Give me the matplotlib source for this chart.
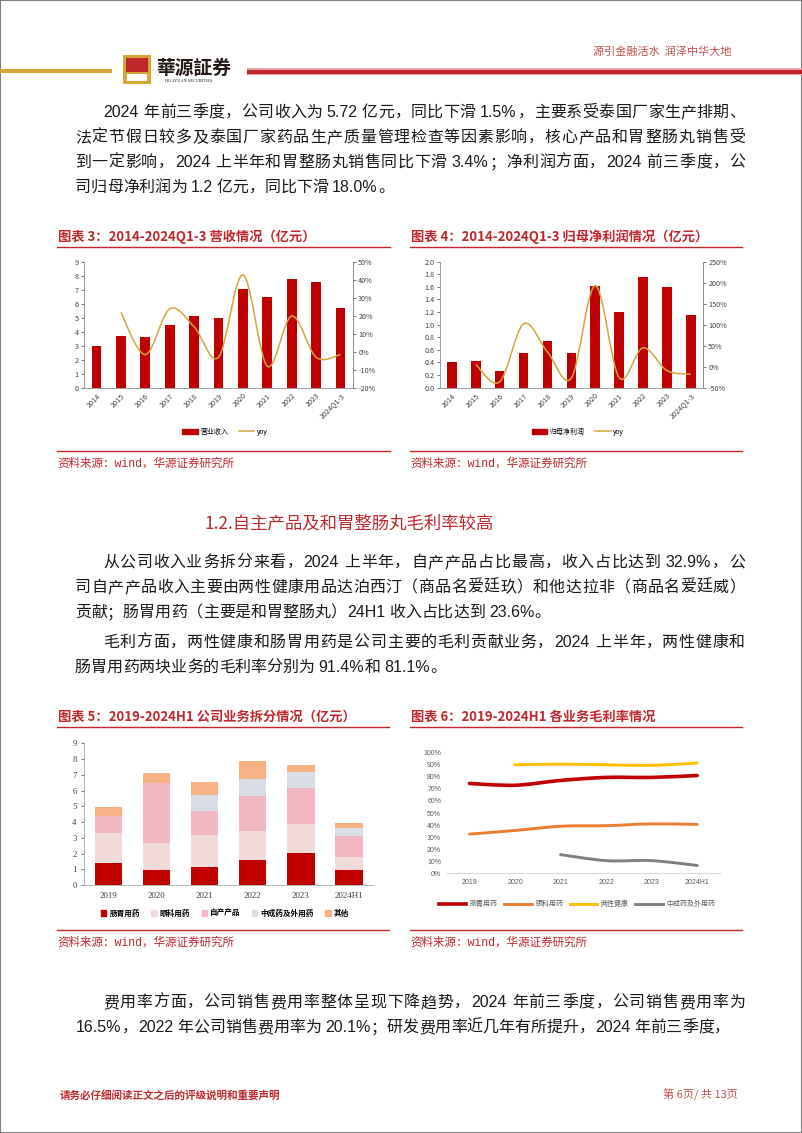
import re
import numpy as np
import matplotlib
matplotlib.use('Agg')
import matplotlib.pyplot as plt
from matplotlib.patches import Rectangle, PathPatch, Patch
from matplotlib.lines import Line2D
from matplotlib.path import Path
from matplotlib.ticker import FuncFormatter

# ---- data -------------------------------------------------------------
years = ['2014', '2015', '2016', '2017', '2018', '2019', '2020', '2021', '2022', '2023', '2024Q1-3']
revenue = [3.0, 3.7, 3.62, 4.5, 5.12, 4.98, 7.08, 6.52, 7.82, 7.6, 5.72]
revenue_yoy = [np.nan, 22, -1.5, 24, 14, -3, 43, -8, 20, -3, -1.5]
net_profit = [0.40, 0.42, 0.27, 0.55, 0.74, 0.55, 1.61, 1.20, 1.75, 1.60, 1.16]
profit_yoy = [np.nan, 5, -36, 102, 35, -27, 193, -26, 45, -9, -18]

seg_years = ['2019', '2020', '2021', '2022', '2023', '2024H1']
seg_names = ['肠胃用药', '眼科用药', '自产产品', '中成药及外用药', '其他']
seg_gi = [1.42, 0.95, 1.17, 1.57, 2.05, 0.93]
seg_eye = [1.86, 1.70, 2.01, 1.86, 1.83, 0.87]
seg_own = [1.10, 3.85, 1.54, 2.25, 2.29, 1.30]
seg_tcm = [0.0, 0.0, 1.00, 1.08, 0.99, 0.53]
seg_other = [0.56, 0.60, 0.83, 1.10, 0.44, 0.31]

gm_names = ['肠胃用药', '眼科用药', '两性健康', '中成药及外用药']
gm_gi = [74.5, 73.0, 77.0, 79.5, 79.5, 81.1]
gm_eye = [32.5, 35.5, 39.0, 39.5, 41.0, 40.5]
gm_sex = [np.nan, 90.0, 90.5, 90.0, 89.5, 91.4]
gm_tcm = [np.nan, np.nan, 15.5, 10.5, 10.5, 6.5]

para1 = ['2024 年前三季度，公司收入为 5.72 亿元，同比下滑 1.5%，主要系受泰国厂家生产排期、',
         '法定节假日较多及泰国厂家药品生产质量管理检查等因素影响，核心产品和胃整肠丸销售受',
         '到一定影响，2024 上半年和胃整肠丸销售同比下滑 3.4%；净利润方面，2024 前三季度，公',
         '司归母净利润为 1.2 亿元，同比下滑 18.0%。']
para2 = ['从公司收入业务拆分来看，2024 上半年，自产产品占比最高，收入占比达到 32.9%，公',
         '司自产产品收入主要由两性健康用品达泊西汀（商品名爱廷玖）和他达拉非（商品名爱廷威）',
         '贡献；肠胃用药（主要是和胃整肠丸）24H1 收入占比达到 23.6%。']
para3 = ['毛利方面，两性健康和肠胃用药是公司主要的毛利贡献业务，2024 上半年，两性健康和',
         '肠胃用药两块业务的毛利率分别为 91.4%和 81.1%。']
para4 = ['费用率方面，公司销售费用率整体呈现下降趋势，2024 年前三季度，公司销售费用率为',
         '16.5%，2022 年公司销售费用率为 20.1%；研发费用率近几年有所提升，2024 年前三季度，']

# ---- page setup ---------------------------------------------------------
W, H = 802, 1133
RED = '#C0272D'
BAR_RED = '#C00000'
GOLD = '#D4A63A'
TXT = '#1a1a1a'
BODY = ['Liberation Sans', 'Noto Sans CJK SC']
CJK = ['Noto Sans CJK SC', 'DejaVu Sans']
plt.rcParams['font.family'] = CJK

fig = plt.figure(figsize=(W / 100, H / 100), dpi=100)
renderer = fig.canvas.get_renderer()


def fx(x):
    return x / W


def fy(y):
    return 1 - y / H


def box(l, t, r, b):
    return [fx(l), fy(b), (r - l) / W, (b - t) / H]


def hline(x0, x1, y, color=RED, lw=1.0):
    fig.add_artist(Line2D([fx(x0), fx(x1)], [fy(y), fy(y)], color=color, lw=lw))


BODY_PT = 11.5
EM = BODY_PT * 100 / 72
OPEN = '（“'
CLOSE = '，。；：、）”'


def body_line(s, x0, y, x1=None):
    # y is the baseline; x1 given -> justify the line to x1
    items = []
    for tk in re.findall(r'[!-~]+| |.', s):
        if tk == ' ':
            items.append((tk, 0.2 * EM, None))
        elif tk.isascii():
            t = fig.text(0, 0, tk, fontsize=BODY_PT, family=BODY, color=TXT, va='baseline')
            items.append((tk, t.get_window_extent(renderer).width + 0.08 * EM, t))
        else:
            items.append((tk, EM, None))
    total = sum(w for _, w, _ in items)
    gap = (x1 - x0 - total) / (len(items) - 1) if x1 else 0
    x = x0
    for tk, w, t in items:
        kw = dict(fontsize=BODY_PT, family=BODY, color=TXT, va='baseline')
        if tk == ' ':
            pass
        elif t is not None:
            t.set_position((fx(x + 0.04 * EM), fy(y)))
        elif tk in OPEN:
            fig.text(fx(x + EM), fy(y), tk, ha='right', **kw)
        elif tk in CLOSE:
            fig.text(fx(x), fy(y), tk, ha='left', **kw)
        else:
            fig.text(fx(x + EM / 2), fy(y), tk, ha='center', **kw)
        x += w + gap


def paragraph(lines, y0, step=25):
    for i, s in enumerate(lines):
        x0 = 103 if i == 0 else 75
        x1 = 745 if i < len(lines) - 1 else None
        body_line(s, x0, y0 + i * step + 6, x1)


def smooth_path(xs, ys):
    pts = [np.array([x, y], float) for x, y in zip(xs, ys) if not np.isnan(y)]
    verts, codes = [pts[0]], [Path.MOVETO]
    for i in range(len(pts) - 1):
        p0 = pts[i - 1] if i > 0 else pts[i]
        p1, p2 = pts[i], pts[i + 1]
        p3 = pts[i + 2] if i + 2 < len(pts) else p2
        verts += [p1 + (p2 - p0) / 6, p2 - (p3 - p1) / 6, p2]
        codes += [Path.CURVE4] * 3
    return Path(verts, codes)


def chart_frame(title, x0, x1, ytitle, yline):
    fig.text(fx(x0 + 1), fy(ytitle), title, fontsize=9.5, weight='bold', color=RED,
             family=CJK, va='center')
    hline(x0, x1, ytitle + 10)
    hline(x0, x1, yline)
    fig.text(fx(x0), fy(yline + 12.5), '资料来源：wind，华源证券研究所', fontsize=8.3,
             color=RED, family=['Liberation Mono', 'Noto Sans CJK SC'], va='center')


# ---- header / footer -----------------------------------------------------
fig.add_artist(Rectangle((0, 0), 1, 1, transform=fig.transFigure, fill=False,
                         ec='#808080', lw=1.5))
fig.add_artist(Rectangle((0, fy(73)), fx(112), 4 / H, transform=fig.transFigure,
                         fc=GOLD, ec='none'))
fig.add_artist(Rectangle((fx(247), fy(75)), 1 - fx(247), 7 / H, transform=fig.transFigure,
                         fc='#E8A0A4', ec='none'))
fig.add_artist(Rectangle((fx(247), fy(73.5)), 1 - fx(247), 4 / H, transform=fig.transFigure,
                         fc=RED, ec='none'))
fig.add_artist(Rectangle((fx(123), fy(84)), 28 / W, 29 / H, transform=fig.transFigure,
                         fc=GOLD, ec='none'))
fig.add_artist(Rectangle((fx(126), fy(72)), 22 / W, 14 / H, transform=fig.transFigure,
                         fc=RED, ec='none'))
fig.add_artist(Rectangle((fx(127), fy(81)), 20 / W, 7 / H, transform=fig.transFigure,
                         fc='white', ec='none'))
fig.text(fx(156), fy(68), '華源証券', fontsize=13.5, weight='bold', color='#231815',
         family=['Noto Sans CJK TC'], va='center')
fig.text(fx(165), fy(81.5), 'HUAYUAN SECURITIES', fontsize=3.2, color='#231815',
         family='Liberation Serif', va='center')
fig.text(fx(593), fy(52), '源引金融活水  润泽中华大地', fontsize=8, color='#C0504D',
         family=CJK, va='center')
fig.text(fx(60), fy(1095), '请务必仔细阅读正文之后的评级说明和重要声明', fontsize=7.6,
         weight='bold', color=RED, family=CJK, va='center')
fig.text(fx(663), fy(1095), '第 6页/ 共 13页', fontsize=8, color='#C0504D',
         family=CJK, va='center')

# ---- body text -----------------------------------------------------------
paragraph(para1, 111)
fig.text(fx(205), fy(523), '1.2.自主产品及和胃整肠丸毛利率较高', fontsize=12.5, color=RED,
         family=CJK, va='center')
paragraph(para2, 561)
paragraph(para3, 641)
paragraph(para4, 1001)


# ---- charts 3 & 4: bars + yoy --------------------------------------------
def bar_yoy(rect, vals, yoy, ylim, yticks, yfmt, rlim, rticks, label, legend_xy):
    x = np.arange(len(years))
    ax = fig.add_axes(rect)
    ax.bar(x, vals, width=0.4, color=BAR_RED)
    ax.set_xlim(-0.5, len(years) - 0.5)
    ax.set_ylim(*ylim)
    ax.set_yticks(yticks)
    ax.yaxis.set_major_formatter(FuncFormatter(lambda v, p: yfmt % v))
    ax.set_xticks(x)
    ax.set_xticklabels(years, rotation=45, ha='right', rotation_mode='anchor')
    ax2 = ax.twinx()
    ax2.set_ylim(*rlim)
    ax2.set_yticks(rticks)
    ax2.yaxis.set_major_formatter(FuncFormatter(lambda v, p: '%d%%' % v))
    ax2.add_patch(PathPatch(smooth_path(x, yoy), fill=False, ec=GOLD, lw=1.1))
    for a in (ax, ax2):
        for s in a.spines.values():
            s.set_color('#8c8c8c')
            s.set_linewidth(0.6)
        a.spines['top'].set_visible(False)
        a.tick_params(labelsize=5.2, colors='#404040', length=2, width=0.5, pad=2)
    ax2.spines['left'].set_visible(False)
    ax2.spines['bottom'].set_visible(False)
    ax.tick_params(axis='x', length=0, pad=3)
    fig.legend([Patch(color=BAR_RED), Line2D([], [], color=GOLD, lw=1.1)], [label, 'yoy'],
               loc='center', bbox_to_anchor=(fx(legend_xy[0]), fy(legend_xy[1])), ncol=2,
               frameon=False, prop={'family': BODY, 'size': 5}, handlelength=2.2,
               handleheight=0.7, handletextpad=0.4, columnspacing=1.5)


chart_frame('图表 3：2014-2024Q1-3 营收情况（亿元）', 57, 390, 237, 451)
bar_yoy(box(84.3, 262.3, 352.7, 387.7), revenue, revenue_yoy, (0, 9), range(10), '%d',
        (-20, 50), range(-20, 51, 10), '营业收入', (225, 432))

chart_frame('图表 4：2014-2024Q1-3 归母净利润情况（亿元）', 410, 742, 237, 451)
bar_yoy(box(440, 261.7, 702.7, 387.7), net_profit, profit_yoy, (0, 2), np.arange(0, 2.01, 0.2),
        '%.1f', (-50, 250), range(-50, 251, 50), '归母净利润', (578, 432))

# ---- chart 5: stacked business split --------------------------------------
chart_frame('图表 5：2019-2024H1 公司业务拆分情况（亿元）', 57, 389, 717, 930)
ax = fig.add_axes(box(84.3, 743.3, 373, 885))
xs = np.arange(len(seg_years))
seg_colors = [BAR_RED, '#F2DADB', '#F3B7C3', '#D9DEE6', '#F7B383']
bottom = np.zeros(len(seg_years))
for vals, col in zip([seg_gi, seg_eye, seg_own, seg_tcm, seg_other], seg_colors):
    ax.bar(xs, vals, bottom=bottom, width=0.57, color=col)
    bottom += np.array(vals)
ax.set_xlim(-0.5, 5.5)
ax.set_ylim(0, 9)
ax.set_yticks(range(10))
ax.set_xticks(xs)
ax.set_xticklabels(seg_years)
for s in ['top', 'right']:
    ax.spines[s].set_visible(False)
for s in ['left', 'bottom']:
    ax.spines[s].set_color('#a6a6a6')
    ax.spines[s].set_linewidth(0.6)
ax.tick_params(axis='y', labelsize=6.3, colors='#404040', length=2.5, width=0.5, pad=3)
ax.tick_params(axis='x', labelsize=6.5, colors='#404040', length=0, pad=5)
for lab in ax.get_xticklabels() + ax.get_yticklabels():
    lab.set_family('Liberation Serif')
fig.legend([Patch(color=c) for c in seg_colors], seg_names, loc='center',
           bbox_to_anchor=(fx(225), fy(913)), ncol=5, frameon=False,
           prop={'family': CJK, 'size': 5.5, 'weight': 'bold'}, handlelength=0.7,
           handleheight=0.7, handletextpad=0.4, columnspacing=1.5)

# ---- chart 6: gross margin lines -----------------------------------------
chart_frame('图表 6：2019-2024H1 各业务毛利率情况', 410, 742, 717, 930)
ax = fig.add_axes(box(446.7, 752.7, 720, 873.3))
gm_colors = [BAR_RED, '#ED7D31', '#FFC000', '#7F7F7F']
gm_lw = [2.6, 2.1, 2.1, 2.1]
for vals, col, lw in zip([gm_gi, gm_eye, gm_sex, gm_tcm], gm_colors, gm_lw):
    ax.add_patch(PathPatch(smooth_path(xs, vals), fill=False, ec=col, lw=lw,
                           capstyle='round'))
ax.set_xlim(-0.5, 5.5)
ax.set_ylim(0, 100)
ax.set_yticks(range(0, 101, 10))
ax.yaxis.set_major_formatter(FuncFormatter(lambda v, p: '%d%%' % v))
ax.set_xticks(xs)
ax.set_xticklabels(seg_years)
for s in ['top', 'right', 'left']:
    ax.spines[s].set_visible(False)
ax.spines['bottom'].set_color('#d9d9d9')
ax.spines['bottom'].set_linewidth(0.8)
ax.tick_params(labelsize=5, colors='#595959', length=0, pad=4)
for lab in ax.get_xticklabels() + ax.get_yticklabels():
    lab.set_family('Liberation Sans')
fig.legend([Line2D([], [], color=c, lw=lw) for c, lw in zip(gm_colors, gm_lw)], gm_names,
           loc='center', bbox_to_anchor=(fx(577), fy(904)), ncol=4, frameon=False,
           prop={'family': CJK, 'size': 5}, labelcolor='#595959', handlelength=4.0,
           handletextpad=0.5, columnspacing=0.9)

fig.savefig('out.png', dpi=100, facecolor='white')
